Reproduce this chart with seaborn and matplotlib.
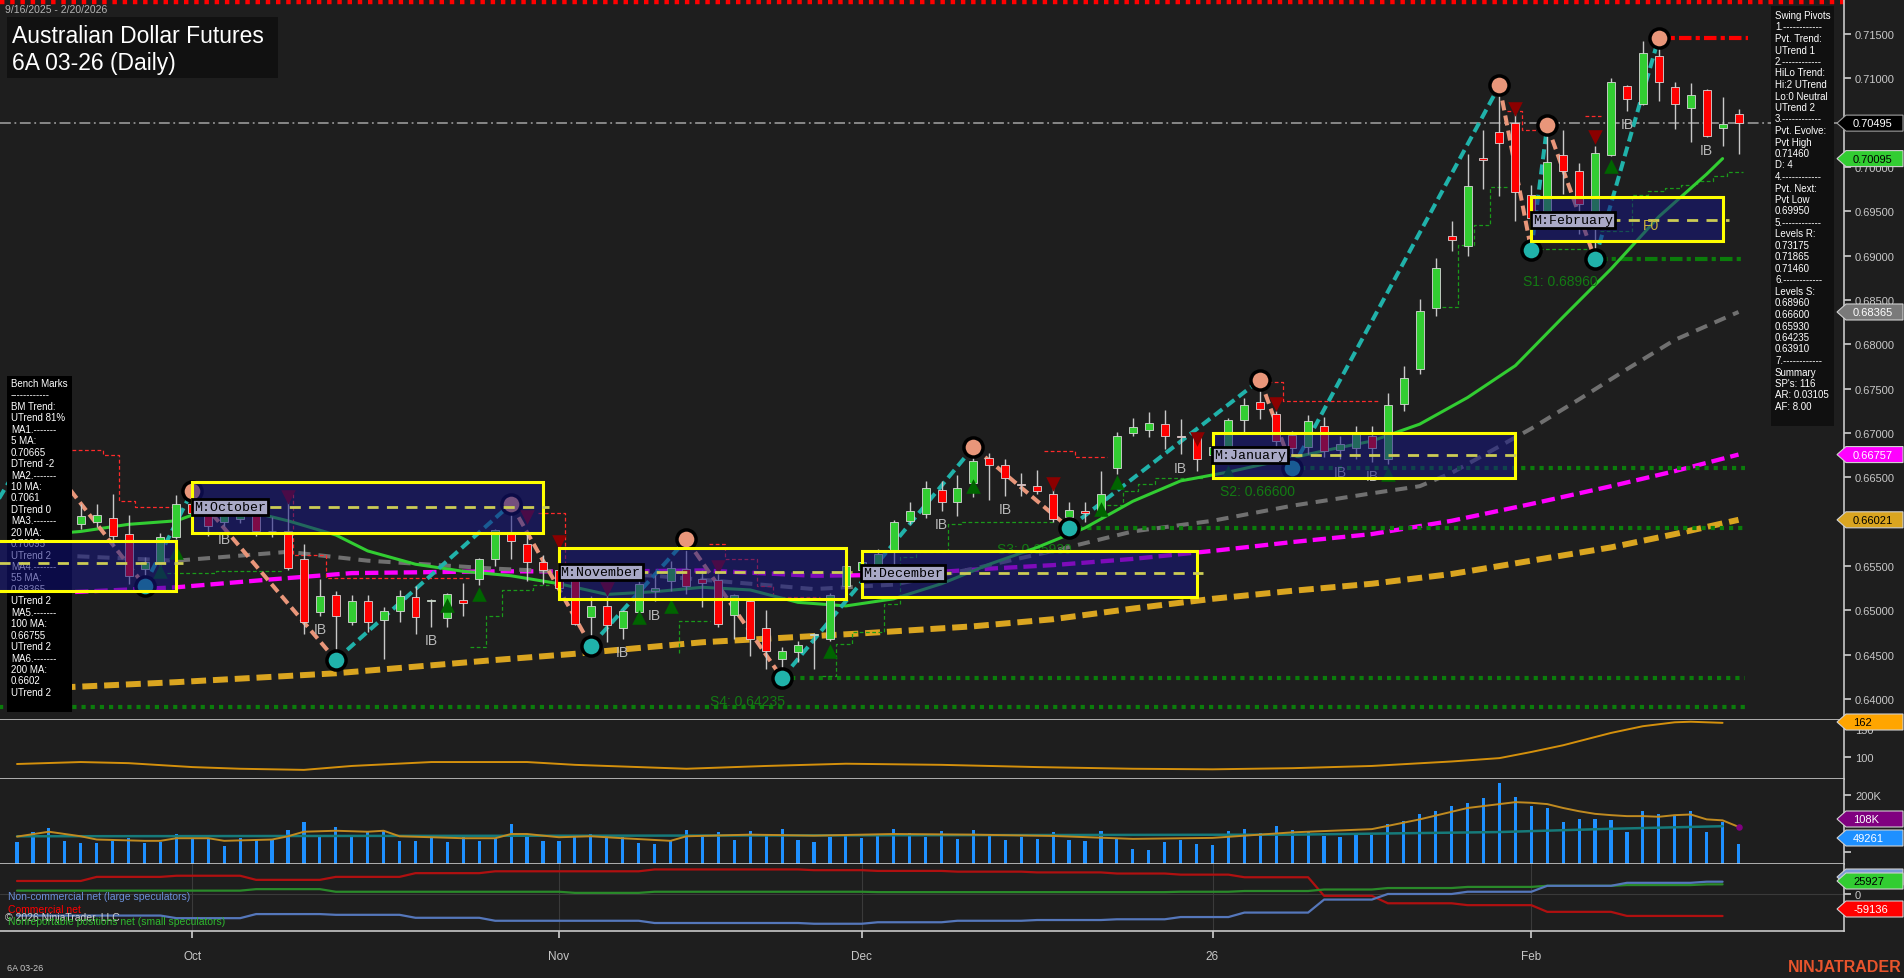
import numpy as np
import pandas as pd
import matplotlib
matplotlib.use("Agg")
import matplotlib.pyplot as plt
import seaborn as sns
from matplotlib.patches import Rectangle, Polygon

# ---------------- data ----------------
# daily bars 9/16/2025 - 2/20/2026, x = bar number
opens = [
    .6648, .6656, .6672, .6645, .6597, .6600, .6604, .6586, .6547, .6555,
    .6583, .6620, .6610, .6600, .6603, .6614, .6590, .6590, .6558, .6498,
    .6517, .6487, .6511, .6489, .6499, .6515, .6510, .6491, .6512, .6535,
    .6558, .6586, .6575, .6555, .6545, .6538, .6492, .6505, .6480, .6498,
    .6522, .6533, .6547, .6535, .6534, .6495, .6510, .6480, .6445, .6453,
    .6472, .6468, .6527, .6545, .6550, .6566, .6601, .6609, .6636, .6622,
    .6644, .6672, .6664, .6642, .6640, .6631, .6605, .6612, .6609, .6660,
    .6700, .6703, .6710, .6697, .6696, .6675, .6682, .6715, .6735, .6722,
    .6698, .6684, .6708, .6681, .6683, .6697, .6671, .6733, .6772, .6841,
    .6922, .6911, .7010, .7039, .7050, .6968, .6950, .7013, .6995, .6930,
    .7013, .7091, .7071, .7125, .7090, .7067, .7087, .7044, .7060]
highs = [
    .6662, .6690, .6680, .6652, .6620, .6620, .6631, .6607, .6560, .6587,
    .6630, .6635, .6614, .6618, .6618, .6618, .6605, .6624, .6575, .6535,
    .6522, .6517, .6517, .6504, .6523, .6527, .6513, .6520, .6531, .6559,
    .6592, .6620, .6586, .6562, .6558, .6540, .6516, .6521, .6500, .6538,
    .6540, .6556, .6580, .6546, .6543, .6518, .6512, .6500, .6459, .6465,
    .6475, .6519, .6551, .6560, .6569, .6602, .6622, .6646, .6646, .6653,
    .6684, .6677, .6671, .6655, .6658, .6649, .6622, .6622, .6657, .6701,
    .6717, .6724, .6726, .6716, .6699, .6690, .6717, .6740, .6760, .6725,
    .6702, .6720, .6718, .6697, .6708, .6708, .6745, .6776, .6851, .6897,
    .6939, .7015, .7042, .7092, .7071, .6980, .7047, .7042, .7004, .7024,
    .7100, .7093, .7142, .7146, .7096, .7095, .7088, .7079, .7065]
lows = [
    .6638, .6650, .6640, .6605, .6592, .6594, .6573, .6530, .6528, .6540,
    .6580, .6598, .6584, .6595, .6598, .6584, .6583, .6546, .6473, .6494,
    .6444, .6484, .6476, .6445, .6487, .6473, .6481, .6481, .6494, .6529,
    .6550, .6558, .6533, .6530, .6520, .6484, .6460, .6464, .6468, .6495,
    .6510, .6522, .6518, .6504, .6481, .6468, .6449, .6434, .64235, .6442,
    .6434, .6465, .6516, .6535, .6543, .6550, .6597, .6604, .6612, .6606,
    .6628, .6624, .6629, .6629, .6631, .6600, .6593, .6600, .6606, .6654,
    .6697, .6696, .6682, .6676, .6657, .6660, .6667, .6701, .6716, .6682,
    .6660, .6676, .6673, .6671, .6671, .6667, .6665, .6725, .6767, .6832,
    .6905, .6900, .6975, .6967, .6939, .6906, .6930, .6970, .6924, .6896,
    .7012, .7063, .7070, .7074, .7043, .7028, .7034, .7024, .7015]
closes = [
    .6656, .6672, .6645, .6612, .6606, .6608, .6584, .6539, .6555, .6583,
    .6620, .6610, .6595, .6612, .6614, .6590, .6589, .6548, .6487, .6516,
    .6494, .6510, .6487, .6499, .6516, .6492, .6512, .6518, .6508, .6558,
    .6591, .6578, .6555, .6545, .6525, .6485, .6505, .6483, .6499, .6530,
    .6525, .6548, .6528, .6531, .6485, .6517, .6468, .6454, .6454, .6461,
    .6473, .6517, .6550, .6555, .6563, .6600, .6612, .6638, .6622, .6638,
    .6668, .6664, .6649, .6641, .6635, .6603, .6613, .6610, .6631, .6697,
    .6707, .6711, .6697, .6696, .6671, .6684, .6715, .6732, .6727, .6691,
    .6683, .6713, .6680, .6688, .6701, .6683, .6732, .6762, .6838, .6886,
    .6918, .6979, .7008, .7027, .6972, .6942, .7006, .6995, .6958, .7016,
    .7096, .7077, .7129, .7096, .7071, .7081, .7035, .7048, .70495]

# moving averages, read at sample bars
ma20_x = [0, 4, 7, 10, 12, 14, 17, 20, 22, 25, 28, 31, 34, 37, 40, 43, 46, 49, 52, 55, 58, 61, 64,
          67, 70, 73, 76, 79, 82, 85, 88, 91, 94, 97, 100, 103, 106, 107]
ma20_v = [.6583, .6589, .6597, .6601, .6614, .6614, .6601, .6585, .6567, .6552, .6544, .6539, .6530,
          .6518, .6521, .6526, .6523, .6509, .6505, .6513, .6530, .6552, .6571, .6593, .6623, .6646,
          .6656, .6668, .6680, .6691, .6710, .6740, .6776, .6831, .6885, .6944, .6992, .70095]
ma55_x = [0, 10, 17, 22, 30, 40, 50, 55, 60, 65, 70, 75, 80, 85, 88, 90, 93, 95, 98, 101, 104, 108]
ma55_v = [.6564, .6556, .6566, .6556, .6547, .6539, .6524, .6529, .6547, .6567, .6589, .6601, .6618,
          .6632, .6640, .6655, .6685, .6705, .6738, .6772, .6805, .68365]
ma100_x = [0, 4, 10, 16, 21, 30, 38, 43, 50, 55, 61, 65, 70, 75, 80, 85, 90, 95, 100, 104, 108]
ma100_v = [.6518, .6521, .6526, .6535, .6542, .6544, .6544, .6545, .6539, .6540, .6547, .6551, .6558,
           .6567, .6577, .6586, .6601, .6620, .6640, .6657, .66757]
ma200_x = [0, 4, 10, 20, 22, 30, 35, 43, 53, 60, 65, 70, 75, 80, 85, 90, 95, 100, 104, 108]
ma200_v = [.6411, .6414, .6419, .6429, .6432, .6444, .6451, .6464, .6474, .6482, .6490, .6502, .6513,
           .6522, .6530, .6541, .6556, .6571, .6586, .66021]

# swing pivots (alternating low / high)
piv_x = [-2, 1, 8, 11, 20, 31, 36, 42, 48, 60, 66, 78, 80, 93, 95, 96, 99, 103]
piv_p = [.6600, .6690, .6528, .6635, .6444, .6620, .6460, .6580, .64235, .6684, .6593, .6760, .6660,
         .7092, .6906, .7047, .6896, .7146]

# monthly boxes
box_start = [-1.3, 11, 34, 53, 75, 95]
box_end = [10, 33, 52, 74, 94, 107]
box_top = [.6578, .6645, .6570, .6567, .6700, .6966]
box_bot = [.6522, .6587, .6513, .6515, .6649, .6917]
box_mid = [.6553, .6617, .6543, .6542, .6675, .6940]
box_names = ["", "M:October", "M:November", "M:December", "M:January", "M:February"]

# support levels
s_levels = [0.68960, 0.66600, 0.65930, 0.64235, 0.63910]
s_from = [99, 80, 66, 48, -1.3]
s_names = ["S1: 0.68960", "S2: 0.66600", "S3: 0.65930", "S4: 0.64235", ""]
r_top = 0.71865
pvt_high = 0.71460
last_price = 0.70495

# signals
down_x = [17, 32, 34, 37, 44, 65, 74, 79, 94, 99]
down_p = [.6628, .6605, .6577, .6524, .6549, .6642, .6693, .6733, .7065, .7034]
up_x = [9, 10, 27, 29, 39, 41, 51, 60, 68, 69, 76, 86, 100]
up_p = [.6544, .6566, .6506, .6518, .6492, .6505, .6454, .6640, .6614, .6645, .6656, .6654, .7001]
ib_x = [13, 19, 26, 38, 40, 58, 62, 73, 83, 85, 101, 106]

# trailing stop steps
red_trails = [
    ([3.45, 5.4, 5.4, 6.4, 6.4, 7.4, 7.4, 9.9], [.6681, .6681, .6675, .6675, .6623, .6623, .6617, .6617]),
    ([17.3, 17.3, 19.4, 19.4, 28.4], [.6631, .6562, .6562, .6537, .6537]),
    ([32.7, 34.4, 34.4, 38.5], [.6610, .6610, .6549, .6549]),
    ([43.4, 44.4, 44.4, 46.4, 46.4, 47.4, 47.4, 50.4], [.6575, .6575, .6558, .6558, .6527, .6527, .6515, .6515]),
    ([64.4, 66.4, 66.4, 68.4], [.6680, .6680, .6673, .6673]),
    ([78.5, 79.4, 79.4, 85.4], [.6758, .6758, .6736, .6736]),
    ([93.5, 94.4, 94.4, 95.4], [.7063, .7063, .7042, .7042]),
    ([98.4, 99.4], [.7058, .7058]),
]
green_trails = [
    ([9.4, 12.5, 12.5, 16.7], [.6542, .6542, .6544, .6544]),
    ([28.4, 29.4, 29.4, 30.4, 30.4, 32.4, 32.4, 33.4], [.6459, .6459, .6494, .6494, .6523, .6523, .6529, .6529]),
    ([41.5, 41.5, 43.5], [.6452, .6488, .6488]),
    ([50.5, 51.4, 51.4, 52.4, 52.4, 54.4, 54.4, 55.4, 55.4, 56.4, 56.4, 58.4, 58.4, 59.3, 59.3, 65.0],
     [.6426, .6426, .6462, .6462, .6476, .6476, .6507, .6507, .6560, .6560, .6566, .6566, .6597, .6597, .6600, .6600]),
    ([68.4, 69.4, 69.4, 70.3, 70.3, 71.4, 71.4, 74.4], [.6619, .6619, .6635, .6635, .6642, .6642, .6649, .6649]),
    ([89.4, 90.4, 90.4, 91.4, 91.4, 92.4, 92.4, 93.6], [.6842, .6842, .6912, .6912, .6935, .6935, .6977, .6977]),
    ([95.1, 98.5], [.6907, .6907]),
    ([99.3, 101.3, 101.3, 102.3, 102.3, 103.4, 103.4, 104.4, 104.4, 105.4, 105.4, 106.4, 106.4, 107.3, 107.3, 108.3],
     [.6928, .6928, .6968, .6968, .6973, .6973, .6976, .6976, .6980, .6980, .6984, .6984, .6990, .6990, .6994, .6994]),
]

# lower panel 1
adx_x = [0, 4, 7, 11, 14, 18, 21, 26, 32, 35, 39, 42, 47, 52, 58, 64, 70, 75, 80, 85, 90, 93, 95, 97,
         100, 102, 104, 105, 107]
adx_v = [87.5, 91, 89, 82, 79, 77, 84, 91, 91, 86, 82, 79, 84, 88, 86, 82, 79, 78, 80, 84, 92, 98, 109,
         121, 143, 155, 162, 163, 161]

# volume (thousands)
volume_k = [54, 87, 98, 58, 52, 52, 58, 68, 52, 56, 80, 68, 64, 42, 67, 65, 65, 92, 117, 77, 102, 73,
            89, 93, 58, 58, 67, 56, 71, 58, 67, 110, 80, 58, 58, 77, 80, 73, 70, 52, 49, 58, 92,
            70, 85, 62, 90, 75, 95, 60, 55, 72, 80,
            68, 75, 95, 82, 70, 88, 64, 92, 78, 60,
            72, 66, 85, 60, 58, 90, 64, 35, 30, 55, 60, 48,
            45, 88, 96, 82, 105, 92, 88, 75, 70, 80,
            78, 110, 120, 140, 150, 165, 175, 190, 237,
            194, 166, 160, 117, 126, 126, 123, 86, 151, 141, 135, 151, 86, 117, 49.261]
vavg_x = [0, 2, 4, 5, 8, 9, 10, 12, 13, 16, 17, 18, 20, 22, 23, 24, 26, 28, 30, 31, 32, 34, 36, 38, 41,
          42, 46, 50, 55, 60, 65, 70, 75, 80, 85, 88, 91, 93, 94, 95, 96, 97, 98, 99, 100, 101, 102,
          103, 104, 105, 106, 107, 108]
vavg_v = [72, 87, 73, 63, 59, 59, 67, 67, 59, 63, 73, 87, 90, 87, 90, 73, 70, 67, 67, 80, 80, 70, 73,
          67, 59, 73, 78, 75, 80, 78, 74, 65, 68, 85, 95, 125, 160, 172, 178, 176, 172, 160, 150, 142,
          138, 135, 135, 133, 138, 140, 125, 122, 102]
vslow_x = [0, 40, 80, 93, 100, 107]
vslow_v = [73, 75, 78, 86, 96, 104]

# COT (thousands of contracts), weekly
cot_weeks = [0, 5, 10, 15, 20, 25, 30, 35, 40, 45, 50, 54, 59, 64, 69, 73, 77, 82, 86, 91, 96, 101, 106]
cot_commercial = [35, 46, 49, 38, 46, 56, 61, 61, 66, 66, 64, 62, 60, 58, 55, 52, 45, -5, -25, -30,
                  -48, -59, -59.136]
cot_small = [9, 9, 9, 13, 6, 6, 6, 3, 6, 6, 6, 5, 5, 5, 5, 6, 8, 12, 16, 19, 22, 24, 25.927]
cot_large = [-58, -58, -65, -54, -56, -64, -72, -72, -78, -78, -80, -76, -72, -70, -68, -62, -50, -15,
             0, 6, 22, 30, 33]

month_ticks = [11, 34, 53, 75, 95]
month_labels = ["Oct", "Nov", "Dec", "26", "Feb"]

bench_lines = ["Bench Marks", "------------", "BM Trend:", "UTrend 81%", "MA1.-------", "5 MA:",
               "0.70665", "DTrend -2", "MA2.-------", "10 MA:", "0.7061", "DTrend 0", "MA3.-------",
               "20 MA:", "0.70095", "UTrend 2", "MA4.-------", "55 MA:", "0.68365", "UTrend 2",
               "MA5.-------", "100 MA:", "0.66755", "UTrend 2", "MA6.-------", "200 MA:", "0.6602",
               "UTrend 2"]
swing_lines = ["Swing Pivots", "1.------------", "Pvt. Trend:", "UTrend 1", "2.------------",
               "HiLo Trend:", "Hi:2 UTrend", "Lo:0 Neutral", "UTrend 2", "3.------------",
               "Pvt. Evolve:", "Pvt High", "0.71460", "D: 4", "4.------------", "Pvt. Next:",
               "Pvt Low", "0.69950", "5.------------", "Levels R:", "0.73175", "0.71865", "0.71460",
               "6.------------", "Levels S:", "0.68960", "0.66600", "0.65930", "0.64235", "0.63910",
               "7.------------", "Summary", "SP's: 116", "AR: 0.03105", "AF: 8.00"]

# ---------------- style ----------------
BG = "#1e1e1e"
FG = "#c8c8c8"
sns.set_theme(style="dark", rc={"axes.facecolor": BG, "figure.facecolor": BG,
                                "axes.edgecolor": FG, "text.color": "white"})
plt.rcParams["font.family"] = ["Liberation Sans", "DejaVu Sans"]

W, H = 1904, 979


def fx(x):
    return x / W


def fy(y):
    return 1 - y / H


fig = plt.figure(figsize=(W / 100, H / 100), dpi=100, facecolor=BG)
right = 1844 / W
ax = fig.add_axes([0, fy(721), right, 721 / H])
ax_adx = fig.add_axes([0, fy(780), right, 59 / H])
ax_vol = fig.add_axes([0, fy(865), right, 85 / H])
ax_cot = fig.add_axes([0, fy(932), right, 67 / H])

x = np.arange(len(closes))
XLIM = (-17 / 15.94, (1844 - 17) / 15.94)

for a in (ax, ax_adx, ax_vol, ax_cot):
    a.set_facecolor(BG)
    a.set_xlim(*XLIM)
    a.grid(False)
    for side in ("left", "top"):
        a.spines[side].set_visible(False)
    for side in ("right", "bottom"):
        a.spines[side].set_color(FG)
        a.spines[side].set_linewidth(1.2)
    a.yaxis.tick_right()
    a.tick_params(axis="y", right=True, left=False, length=5, color=FG, labelcolor=FG,
                  labelsize=8, pad=3, direction="out")
    a.tick_params(axis="x", bottom=False, labelbottom=False)

# ---------------- main price panel ----------------
ax.set_ylim(0.637632, 0.71895)
ax.set_yticks(np.arange(0.640, 0.7151, 0.005))
ax.yaxis.set_major_formatter(plt.FuncFormatter(lambda v, p: f"{v:.5f}"))

# moving averages
sns.lineplot(x=ma200_x, y=ma200_v, ax=ax, color="#daa520", lw=4.3, linestyle=(0, (2.5, 1.15)),
             zorder=2)
sns.lineplot(x=ma100_x, y=ma100_v, ax=ax, color="#ff00ff", lw=3.1, linestyle=(0, (3.1, 1.4)), zorder=2)
sns.lineplot(x=ma55_x, y=ma55_v, ax=ax, color="#707070", lw=2.9, linestyle=(0, (3, 2)), zorder=2)
sns.lineplot(x=ma20_x, y=ma20_v, ax=ax, color="#32cd32", lw=2.2, zorder=2.2)

# horizontal levels
ax.axhline(r_top, color="#ff0000", lw=3.2, linestyle=(0, (1, 1.3)), zorder=2)
ax.axhline(last_price, color="#909090", lw=1.3, linestyle=(0, (6, 2, 1, 2)), zorder=2)
ax.plot([102.7, 108.6], [pvt_high, pvt_high], color="#ff0000", lw=3, linestyle=(0, (3, 1, 1, 1)),
        zorder=2)
for lvl, x0, name in zip(s_levels, s_from, s_names):
    ls = (0, (3, 1, 1, 1)) if name.startswith("S1") else (0, (1, 1.2))
    ax.plot([x0, 108.4], [lvl, lvl], color="#0b7d0b", lw=3, linestyle=ls, zorder=2)
ax.text(94.5, 0.6871, s_names[0], color="#137a13", fontsize=10, va="center", zorder=4)
ax.text(75.5, 0.6635, s_names[1], color="#137a13", fontsize=10, va="center", zorder=4)
ax.text(61.5, 0.6569, s_names[2], color="#137a13", fontsize=10, va="center", zorder=2.1)
ax.text(43.5, 0.6398, s_names[3], color="#137a13", fontsize=10, va="center", zorder=4)

for tx, ty in red_trails:
    ax.plot(tx, ty, color="#ff2a2a", lw=0.9, linestyle=(0, (3, 2)), zorder=2)
for tx, ty in green_trails:
    ax.plot(tx, ty, color="#1a9a1a", lw=0.9, linestyle=(0, (3, 2)), zorder=2)

# swing legs
for i in range(len(piv_x) - 1):
    col = "#20b2aa" if i % 2 == 0 else "#e9967a"
    ax.plot(piv_x[i:i + 2], piv_p[i:i + 2], color=col, lw=2.9, linestyle=(0, (2.5, 1.3)),
            zorder=3, dash_capstyle="butt")

# candles
o = np.array(opens)
c = np.array(closes)
up = c >= o
body_lo = np.minimum(o, c)
body_h = np.maximum(np.abs(c - o), 0.00008)
ax.vlines(x, lows, highs, color="#c8c8c8", lw=1, zorder=3.5)
ax.bar(x, body_h, bottom=body_lo, width=0.5, color=np.where(up, "#32cd32", "#ff0000"),
       edgecolor="#d8d8d8", linewidth=0.6, zorder=3.6)

# pivot markers
hi_idx = [i for i in range(1, len(piv_x)) if i % 2 == 1]
lo_idx = [i for i in range(1, len(piv_x)) if i % 2 == 0]
ax.scatter([piv_x[i] for i in hi_idx], [piv_p[i] for i in hi_idx], s=190, c="#e9967a",
           edgecolors="black", linewidths=2.5, zorder=4)
ax.scatter([piv_x[i] for i in lo_idx], [piv_p[i] for i in lo_idx], s=190, c="#20b2aa",
           edgecolors="black", linewidths=2.5, zorder=4)

# signals
ax.scatter(down_x, down_p, marker="v", s=110, c="#8b0000", linewidths=0, zorder=4)
ax.scatter(up_x, up_p, marker="^", s=110, c="#006400", linewidths=0, zorder=4)
for i in ib_x:
    ax.text(i, lows[i] - 0.0015, "IB", color="#b8b8b8", fontsize=10, ha="center", va="center",
            zorder=4)

# bench marks panel
ax.add_patch(Rectangle((fx(7), fy(713)), 65 / W, 336 / H, transform=fig.transFigure,
                       fc="black", ec="none", zorder=5))
for i, s in enumerate(bench_lines):
    ax.text(fx(11), fy(384 + i * 11.44), s, transform=fig.transFigure, color="white",
            fontsize=7, va="center", ha="left", zorder=6)

# monthly boxes
for x0, x1, t, b, m, name in zip(box_start, box_end, box_top, box_bot, box_mid, box_names):
    ax.add_patch(Rectangle((x0, b), x1 - x0, t - b, fc="#151582", alpha=0.55, ec="none", zorder=7))
    ax.add_patch(Rectangle((x0, b), x1 - x0, t - b, fc="none", ec="#ffff00", lw=2.2, zorder=7.4))
    ax.plot([x0, x1 + 0.4], [m, m], color="#cccc55", lw=2, linestyle=(0, (4, 3)), zorder=7.5)
    if name:
        ax.text(x0 + 0.1, m, name, family="Liberation Mono", fontsize=9.5, color="black",
                ha="left", va="center", zorder=8,
                bbox=dict(boxstyle="square,pad=0.15", fc="#a9a9c6", ec="black", lw=2))
ax.text(102.5, 0.6935, "F0", color="#c8b040", fontsize=10, ha="center", va="center", zorder=8)

# swing pivots panel
ax.add_patch(Rectangle((fx(1771), fy(427)), 63 / W, 420 / H, transform=fig.transFigure,
                       fc="#101010", ec="none", zorder=9))
for i, s in enumerate(swing_lines):
    ax.text(fx(1775), fy(16 + i * 11.5), s, transform=fig.transFigure, color="white",
            fontsize=7, va="center", ha="left", zorder=10)

# title
ax.add_patch(Rectangle((fx(7), fy(79)), 271 / W, 61 / H, transform=fig.transFigure,
                       fc="#111111", ec="none", zorder=9))
ax.text(fx(12), fy(43), "Australian Dollar Futures", transform=fig.transFigure, color="white",
        fontsize=16.5, va="baseline", zorder=10)
ax.text(fx(12), fy(70), "6A 03-26 (Daily)", transform=fig.transFigure, color="white",
        fontsize=16.5, va="baseline", zorder=10)
fig.text(fx(5), fy(10), "9/16/2025 - 2/20/2026", color="#b4b4b4", fontsize=7.5, va="center")

# ---------------- panel 2 ----------------
ax_adx.set_ylim(60.7, 166.1)
ax_adx.set_yticks([100, 150])
sns.lineplot(x=adx_x, y=adx_v, ax=ax_adx, color="#d4900c", lw=1.4)

# ---------------- volume ----------------
ax_vol.set_ylim(-12.3, 249.2)
ax_vol.set_yticks([25, 200])
ax_vol.set_yticklabels(["", "200K"])
ax_vol.bar(x, np.array(volume_k) + 12.3, bottom=-12.3, width=0.2, color="#1e90ff",
           edgecolor="none", linewidth=0, zorder=2)
sns.lineplot(x=vslow_x, y=vslow_v, ax=ax_vol, color="#167a7a", lw=1.8, zorder=3)
sns.lineplot(x=vavg_x, y=vavg_v, ax=ax_vol, color="#c08a20", lw=1.4, zorder=3)
ax_vol.scatter([108], [102], s=22, c="#800080", linewidths=0, zorder=4)

# ---------------- COT ----------------
ax_cot.set_ylim(-99.5, 80.6)
ax_cot.set_yticks([0])
ax_cot.axhline(0, color="#3a3a3a", lw=0.8, zorder=1)
for m in month_ticks:
    ax_cot.axvline(m, color="#3a3a3a", lw=0.8, zorder=1)


def weekly_path(starts, vals, last):
    xs, ys = [], []
    ends = starts[1:] + [last + 1]
    for s, e, v in zip(starts, ends, vals):
        xs += [s, e - 1]
        ys += [v, v]
    return xs, ys


for vals, col in ((cot_commercial, "#b01010"), (cot_small, "#2a8a2a"), (cot_large, "#5577bb")):
    px_, py_ = weekly_path(cot_weeks, vals, 107)
    ax_cot.plot(px_, py_, color=col, lw=1.6, zorder=2)

ax_cot.set_xticks(month_ticks)
ax_cot.set_xticklabels(month_labels)
ax_cot.tick_params(axis="x", bottom=True, labelbottom=True, length=5, color=FG, labelcolor=FG,
                   labelsize=8.5, pad=9)

fig.text(fx(8), fy(897), "Non-commercial net (large speculators)", color="#6a8fd8", fontsize=7.5,
         va="center")
fig.text(fx(8), fy(910), "Commercial net", color="#ff0000", fontsize=7.5, va="center")
fig.text(fx(5), fy(918), "\u00a9 2026 NinjaTrader, LLC", color="#d0d0d0", fontsize=7.5, va="center")
fig.text(fx(8), fy(922), "Nonreportable positions net (small speculators)", color="#2eb82e",
         fontsize=7.5, va="center")
fig.text(fx(7), fy(969), "6A 03-26", color="#c8c8c8", fontsize=6.5, va="center")
fig.text(fx(1902), fy(968), "NINJATRADER", color="#e8542c", fontsize=11.5, fontweight="bold",
         ha="right", va="center")


# ---------------- right-axis value tags ----------------
def tag(y_top, text, fc, tc, ec="#d0d0d0"):
    pts = [(1837, y_top), (1846, y_top - 8), (1903, y_top - 8), (1903, y_top + 8), (1846, y_top + 8)]
    fig.add_artist(Polygon([(fx(a), fy(b)) for a, b in pts], closed=True,
                           transform=fig.transFigure, fc=fc, ec=ec, lw=0.8, zorder=20))
    if text:
        fig.text(fx(1853), fy(y_top), text, color=tc, fontsize=8, va="center", ha="left", zorder=21)


def ypx(a, v):
    return H - a.transData.transform((0, v))[1]


tag(ypx(ax, last_price), "0.70495", "black", "white", ec="#a0a0a0")
tag(ypx(ax, ma20_v[-1]), "0.70095", "#32cd32", "black")
tag(ypx(ax, ma55_v[-1]), "0.68365", "#7a7a7a", "white")
tag(ypx(ax, 0.66757), "0.66757", "#ff00ff", "white")
tag(ypx(ax, ma200_v[-1]), "0.66021", "#daa520", "black")
tag(723, "162", "#ffa500", "black")
tag(820, "108K", "#800080", "white")
tag(839, "49261", "#1e90ff", "white")
tag(878, "", "#7a9ad8", "white")
tag(882, "25927", "#32cd32", "black")
tag(910, "-59136", "#ff0000", "white")

fig.savefig("out.png", dpi=100, facecolor=BG)
